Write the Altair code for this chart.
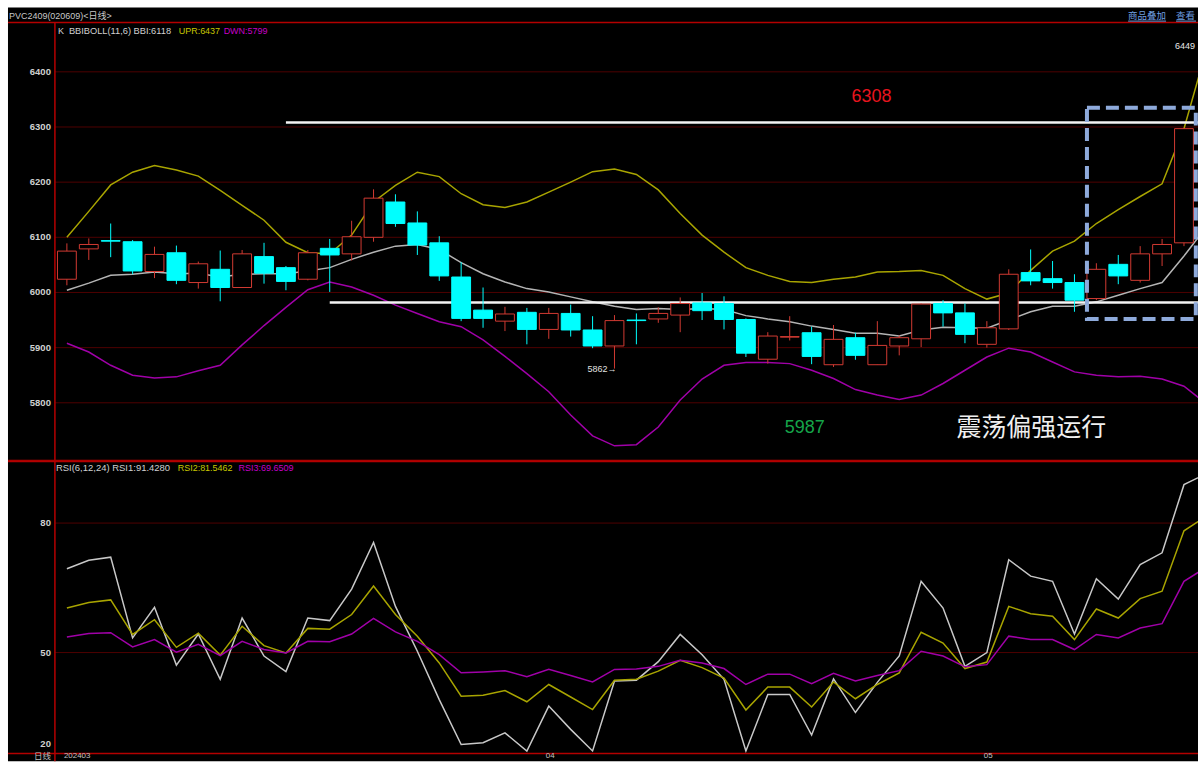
import altair as alt
import pandas as pd
import numpy as np

# ---------------- data ----------------
opens = [6024, 6079, 6094, 6092, 6038, 6072, 6018, 6042, 6009, 6065,
         6045, 6024, 6080, 6070, 6100, 6164, 6126, 6090, 6028, 5968,
         5948, 5964, 5933, 5962, 5932, 5903, 5950, 5952, 5959, 5981,
         5980, 5951, 5879, 5919, 5927, 5869, 5918, 5869, 5903, 5916,
         5980, 5963, 5906, 5934, 6036, 6025, 6018, 5989, 6051, 6022,
         6070, 6090]
highs = [6089, 6098, 6125, 6095, 6083, 6085, 6056, 6076, 6077, 6090,
         6048, 6077, 6097, 6130, 6187, 6178, 6147, 6102, 6055, 6009,
         5974, 5972, 5972, 5978, 5957, 5959, 5962, 5973, 5991, 5999,
         5993, 5953, 5928, 5957, 5938, 5941, 5927, 5948, 5922, 5980,
         5986, 5980, 5948, 6042, 6078, 6057, 6033, 6053, 6068, 6084,
         6097, 6297]
lows = [6013, 6059, 6064, 6033, 6026, 6015, 6007, 5984, 6009, 6016,
        6004, 6022, 6001, 6058, 6092, 6119, 6068, 6021, 5948, 5936,
        5930, 5906, 5916, 5920, 5899, 5862, 5906, 5945, 5928, 5950,
        5933, 5883, 5871, 5913, 5870, 5865, 5878, 5869, 5886, 5901,
        5938, 5908, 5900, 5932, 6013, 6007, 5965, 5986, 6015, 6018,
        6048, 6084]
closes = [6075, 6087, 6093, 6039, 6069, 6022, 6052, 6009, 6070, 6035,
          6020, 6072, 6068, 6101, 6171, 6125, 6086, 6030, 5953, 5953,
          5961, 5933, 5962, 5932, 5903, 5949, 5949, 5962, 5980, 5967,
          5951, 5890, 5921, 5920, 5884, 5915, 5886, 5904, 5918, 5979,
          5963, 5924, 5936, 6033, 6021, 6018, 5986, 6042, 6030, 6070,
          6087, 6297]

# BBIBOLL(11,6) lines, one value per bar (+ the bar just past the right edge)
upr = [6100, 6147, 6195, 6218, 6230, 6222, 6211, 6185, 6158, 6131,
       6091, 6072, 6070, 6104, 6164, 6194, 6218, 6210, 6179, 6159,
       6154, 6164, 6182, 6200, 6219, 6224, 6214, 6186, 6143, 6104,
       6073, 6045, 6031, 6020, 6018, 6024, 6028, 6037, 6038, 6040,
       6031, 6007, 5988, 5999, 6040, 6075, 6093, 6125, 6150, 6174,
       6197, 6297, 6437]
bbi = [6004, 6017, 6031, 6033, 6037, 6034, 6035, 6028, 6033, 6034,
       6034, 6039, 6045, 6060, 6073, 6084, 6087, 6078, 6054, 6034,
       6019, 6007, 6001, 5992, 5983, 5975, 5969, 5971, 5969, 5971,
       5969, 5958, 5952, 5947, 5939, 5933, 5926, 5926, 5921, 5932,
       5937, 5936, 5935, 5950, 5965, 5975, 5975, 5983, 5995, 6007,
       6018, 6066, 6118]
dwn = [5908, 5892, 5868, 5850, 5845, 5847, 5858, 5868, 5905, 5940,
       5973, 6005, 6019, 6010, 5995, 5977, 5962, 5947, 5938, 5914,
       5884, 5853, 5820, 5778, 5740, 5722, 5724, 5756, 5805, 5843,
       5868, 5873, 5873, 5871, 5859, 5844, 5824, 5814, 5806, 5814,
       5835, 5859, 5883, 5899, 5892, 5874, 5856, 5850, 5847, 5848,
       5843, 5830, 5799]

rsi1 = [69.4, 71.4, 72.1, 53.4, 60.5, 47.1, 54.3, 43.8, 58.0, 49.2,
        45.6, 58.0, 57.4, 64.7, 75.5, 60.7, 50.3, 39.1, 28.7, 29.1,
        31.4, 27.2, 37.6, 32.2, 27.2, 43.4, 43.6, 47.9, 54.2, 49.5,
        43.8, 27.2, 40.3, 40.3, 30.9, 43.9, 36.1, 43.1, 49.2, 66.5,
        60.3, 46.8, 50.0, 71.5, 67.7, 66.5, 54.3, 67.1, 62.4, 70.4,
        73.1, 88.9, 91.4]
rsi2 = [60.3, 61.6, 62.2, 54.2, 57.6, 51.2, 54.5, 49.4, 56.1, 51.6,
        49.9, 55.6, 55.4, 58.8, 65.4, 58.8, 53.8, 47.6, 39.9, 40.1,
        41.2, 38.6, 42.6, 39.7, 36.8, 43.6, 43.8, 45.7, 48.2, 46.5,
        44.1, 36.7, 42.0, 42.0, 37.4, 43.2, 39.3, 42.6, 45.3, 54.7,
        52.2, 46.3, 47.8, 60.7, 59.0, 58.4, 53.0, 60.1, 58.0, 62.5,
        64.2, 78.2, 81.5]
rsi3 = [53.6, 54.4, 54.6, 51.3, 53.0, 50.1, 51.9, 49.3, 52.6, 50.7,
        49.9, 52.6, 52.5, 54.3, 57.9, 54.8, 52.6, 49.5, 45.3, 45.5,
        45.8, 44.4, 46.1, 44.7, 43.2, 46.1, 46.2, 46.8, 48.2, 47.6,
        46.3, 42.6, 45.0, 45.0, 42.8, 45.2, 43.4, 44.7, 45.8, 50.3,
        49.2, 46.7, 47.2, 53.8, 53.0, 53.0, 50.7, 54.2, 53.4, 55.7,
        56.7, 66.5, 69.7]

price_ticks = [6400, 6300, 6200, 6100, 6000, 5900, 5800]
rsi_grid = [80, 50]
rsi_labels = ["80", "50", "20"]
rsi_label_vals = [80, 50, 28.7]

level_prices = [6308, 5982]
level_start = [10, 12]
level_texts = ["6308", "5987"]

date_idx = [0, 22, 42]
date_labels = ["202403", "04", "05"]

box_x = [46.57, 51.54]
box_p = [5952, 6335]
period_high = 6449

# ---------------- geometry / style ----------------
W, H1, H2 = 1192, 454, 301
XDOM = [-2.689, 51.64]
PDOM = [5694.7, 6516.4]
RDOM = [24.79, 94.41]
FONT = "Liberation Sans, Noto Sans CJK SC"
CJK = "Noto Sans CJK SC"
RED = "#d23a32"
CYAN = "#00ffff"
BORDER = "#b40000"
GRID = "#4e0000"
LBL = "#d0d0d0"
YEL = "#a8a400"
YEL_T = "#c8c800"
MAG = "#a000a8"
MAG_T = "#c800c8"

xs = alt.Scale(domain=XDOM, nice=False, zero=False)
ps = alt.Scale(domain=PDOM, nice=False, zero=False)
rs = alt.Scale(domain=RDOM, nice=False, zero=False)

one = pd.DataFrame({"k": [0]})


def hrule(ypx, x0, x1, color, width=1.0):
    return alt.Chart(one).mark_rule(color=color, strokeWidth=width).encode(
        x=alt.value(x0), x2=alt.value(x1), y=alt.value(ypx))


def vrule(xpx, y0, y1, color, width=1.0):
    return alt.Chart(one).mark_rule(color=color, strokeWidth=width).encode(
        x=alt.value(xpx), y=alt.value(y0), y2=alt.value(y1))


def label(text, xpx, ypx, color, size=9, align="left", font=FONT, weight="normal"):
    return alt.Chart(pd.DataFrame({"t": [text]})).mark_text(
        align=align, baseline="middle", color=color, fontSize=size,
        font=font, fontWeight=weight).encode(
        x=alt.value(xpx), y=alt.value(ypx), text="t:N")


# ---------------- main (K-line) panel ----------------
cdf = pd.DataFrame({"i": list(range(len(opens))), "o": opens, "h": highs,
                    "l": lows, "c": closes})
cdf["dir"] = np.where(cdf["c"] >= cdf["o"], "up", "down")

base = alt.Chart(cdf).transform_calculate(
    xa="datum.i - 0.43", xb="datum.i + 0.43",
    top="max(datum.o, datum.c)", bot="min(datum.o, datum.c)")

wicks = base.mark_rule(strokeWidth=1).encode(
    x=alt.X("i:Q", scale=xs, axis=None),
    y=alt.Y("l:Q", scale=ps, axis=None), y2="h:Q",
    color=alt.Color("dir:N", scale=alt.Scale(domain=["up", "down"], range=[RED, CYAN]),
                    legend=None))

body_up = base.transform_filter("datum.dir == 'up'").mark_rect(
    fill="#000000", stroke=RED, strokeWidth=1).encode(
    x=alt.X("xa:Q", scale=xs, axis=None), x2="xb:Q",
    y=alt.Y("bot:Q", scale=ps, axis=None), y2="top:Q")

body_dn = base.transform_filter("datum.dir == 'down'").mark_rect(
    fill=CYAN, stroke=CYAN, strokeWidth=1).encode(
    x=alt.X("xa:Q", scale=xs, axis=None), x2="xb:Q",
    y=alt.Y("bot:Q", scale=ps, axis=None), y2="top:Q")

n_ind = len(upr)
boll_layers = []
for vals, col in [(upr, YEL), (bbi, "#b4b4b4"), (dwn, MAG)]:
    d = pd.DataFrame({"i": list(range(n_ind)), "v": vals})
    boll_layers.append(alt.Chart(d).mark_line(color=col, strokeWidth=1.5, clip=True).encode(
        x=alt.X("i:Q", scale=xs, axis=None), y=alt.Y("v:Q", scale=ps, axis=None)))

grid_main = alt.Chart(pd.DataFrame({"p": price_ticks})).mark_rule(
    color=GRID, strokeWidth=1).encode(
    x=alt.value(47), x2=alt.value(W), y=alt.Y("p:Q", scale=ps, axis=None))

ticks_main = alt.Chart(pd.DataFrame({"p": price_ticks,
                                     "t": [str(v) for v in price_ticks]})).mark_text(
    align="right", baseline="middle", color=LBL, fontSize=9.5, font=FONT,
    fontWeight="bold").encode(
    x=alt.value(43), y=alt.Y("p:Q", scale=ps, axis=None), text="t:N")

ldf = pd.DataFrame({"p": level_prices, "s": level_start, "e": [XDOM[1] + 1] * 2})
levels = alt.Chart(ldf).mark_rule(color="#f4f4f4", strokeWidth=2.5, clip=True).encode(
    x=alt.X("s:Q", scale=xs, axis=None), x2="e:Q",
    y=alt.Y("p:Q", scale=ps, axis=None))

bdf = pd.DataFrame({"x0": [box_x[0]], "x1": [box_x[1]], "p0": [box_p[0]], "p1": [box_p[1]]})
box = alt.Chart(bdf).mark_rect(fillOpacity=0, stroke="#8eaadb", strokeWidth=4,
                               strokeDash=[13, 6]).encode(
    x=alt.X("x0:Q", scale=xs, axis=None), x2="x1:Q",
    y=alt.Y("p0:Q", scale=ps, axis=None), y2="p1:Q")

lo = cdf.loc[cdf["l"].idxmin()]
low_df = pd.DataFrame({"i": [int(lo["i"])], "l": [int(lo["l"])], "t": [f"{int(lo['l'])}→"]})
low_mark = alt.Chart(low_df).mark_text(align="right", baseline="middle", color="#e0e0e0",
                                       fontSize=9, font=FONT, dx=2).encode(
    x=alt.X("i:Q", scale=xs, axis=None), y=alt.Y("l:Q", scale=ps, axis=None), text="t:N")

main = alt.layer(
    grid_main,
    hrule(15, 0, W, BORDER, 1.5),
    vrule(47, 15, H1, BORDER, 1.5),
    hrule(H1, 0, W, BORDER, 2),
    *boll_layers,
    levels,
    wicks, body_up, body_dn,
    box,
    ticks_main,
    low_mark,
    label("PVC2409(020609)<日线>", 1, 8, "#c8c8c8", 9),
    label("商品叠加", 1122, 8, "#6f9fe0", 9.5),
    label("查看", 1170, 8, "#6f9fe0", 9.5),
    hrule(13.5, 1122, 1160, "#6f9fe0", 1),
    hrule(13.5, 1170, 1190, "#6f9fe0", 1),
    label("K", 50, 23, LBL, 9),
    label("BBIBOLL(11,6) BBI:6118", 61, 23, LBL, 9.3),
    label("UPR:6437", 171, 23, YEL_T, 9),
    label("DWN:5799", 216, 23, MAG_T, 9),
    label(str(period_high), 1189, 38, "#e8e8e8", 9, align="right"),
    label(level_texts[0], 865, 90, "#e8141e", 18, align="center"),
    label(level_texts[1], 798, 421, "#16a44a", 18, align="center"),
    label("震荡偏强运行", 1025, 421, "#f0f0f0", 25, align="center", font=CJK),
).properties(width=W, height=H1)

# ---------------- RSI panel ----------------
rsi_layers = []
for vals, col in [(rsi1, "#c8c8c8"), (rsi2, YEL), (rsi3, MAG)]:
    d = pd.DataFrame({"i": list(range(len(vals))), "v": vals})
    rsi_layers.append(alt.Chart(d).mark_line(color=col, strokeWidth=1.5, clip=True).encode(
        x=alt.X("i:Q", scale=xs, axis=None), y=alt.Y("v:Q", scale=rs, axis=None)))

grid_rsi = alt.Chart(pd.DataFrame({"v": rsi_grid})).mark_rule(
    color=GRID, strokeWidth=1).encode(
    x=alt.value(47), x2=alt.value(W), y=alt.Y("v:Q", scale=rs, axis=None))

ticks_rsi = alt.Chart(pd.DataFrame({"v": rsi_label_vals, "t": rsi_labels})).mark_text(
    align="right", baseline="middle", color=LBL, fontSize=9.5, font=FONT,
    fontWeight="bold").encode(
    x=alt.value(43), y=alt.Y("v:Q", scale=rs, axis=None), text="t:N")

dates = alt.Chart(pd.DataFrame({"i": date_idx, "t": date_labels})).mark_text(
    align="left", baseline="middle", color="#c0c0c0", fontSize=8, font=FONT, dx=-3).encode(
    x=alt.X("i:Q", scale=xs, axis=None), y=alt.value(295.5), text="t:N")

rsi = alt.layer(
    grid_rsi,
    *rsi_layers,
    hrule(0.5, 0, W, BORDER, 2),
    hrule(293, 0, W, BORDER, 1.5),
    vrule(47, 0, H2, BORDER, 1.5),
    ticks_rsi,
    dates,
    label("日线", 43, 295.5, "#c0c0c0", 8.5, align="right"),
    label("RSI(6,12,24) RSI1:91.4280", 48, 7, LBL, 9.5),
    label("RSI2:81.5462", 170, 7, YEL_T, 9),
    label("RSI3:69.6509", 231, 7, MAG_T, 9),
).properties(width=W, height=H2)

chart = alt.vconcat(main, rsi, spacing=0, bounds="flush").properties(
    padding={"left": 7, "top": 7, "right": 0, "bottom": 0},
    background="#ffffff",
).configure_view(strokeWidth=0, fill="#000000")

chart.save("out.html", embed_options={"renderer": "svg", "actions": False})
